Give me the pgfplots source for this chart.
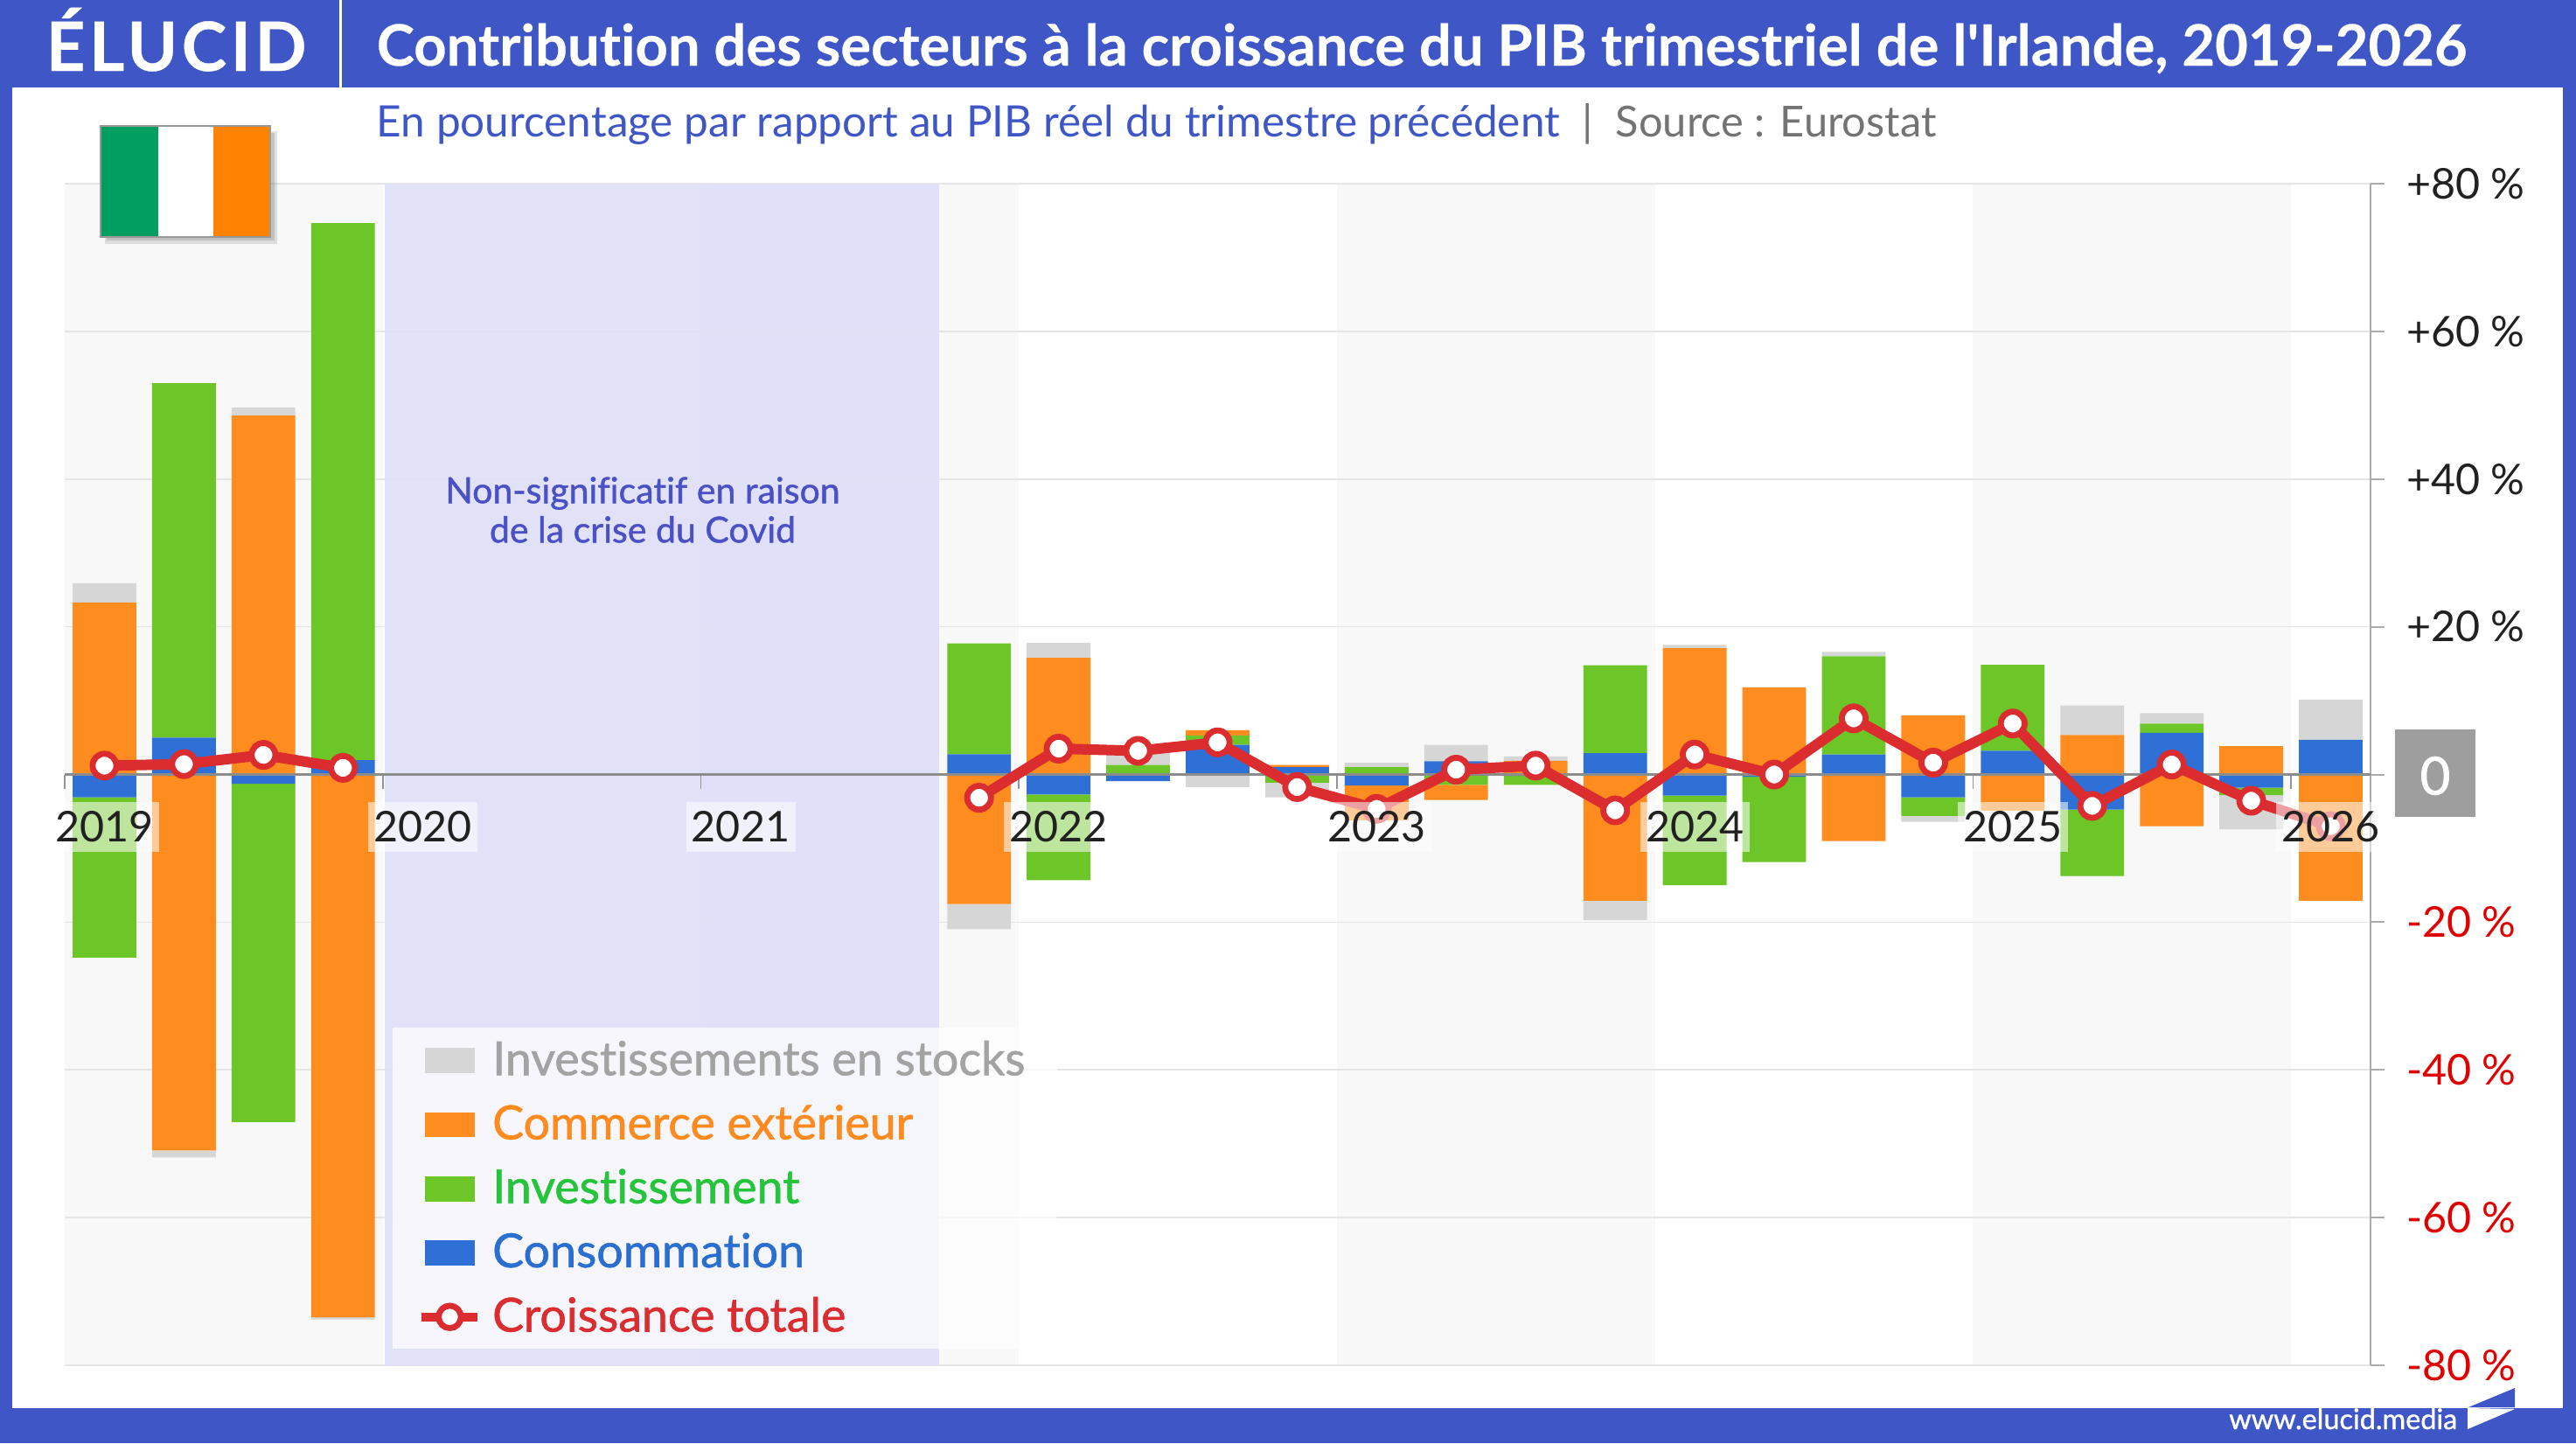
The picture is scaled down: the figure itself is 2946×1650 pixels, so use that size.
\documentclass[border=0pt]{standalone}
\usepackage{pgfplots}
\usepackage{pgfplotstable}
\usepackage{fontspec}
\pgfplotsset{compat=1.18}
\setmainfont{Lato}[Ligatures={NoCommon,TeXOff}]
\newfontfamily\semi[FakeBold=1.1,Ligatures={NoCommon,TeXOff}]{Lato}

\definecolor{banner}{HTML}{3F57C6}
\definecolor{cgray}{HTML}{D6D6D6}
\definecolor{corange}{HTML}{FF8C1E}
\definecolor{cgreen}{HTML}{6DC627}
\definecolor{cblue}{HTML}{2E70D6}
\definecolor{cred}{HTML}{DB2C30}
\definecolor{neglab}{HTML}{E00000}
\definecolor{band}{HTML}{F8F8F8}
\definecolor{covid}{HTML}{DFDFF8}
\definecolor{covidtext}{HTML}{4A50C6}
\definecolor{flaggreen}{HTML}{009E60}
\definecolor{flagorange}{HTML}{FF8200}

% positive contributions, stacked upwards
\pgfplotstableread{
x blue green orange gray
0.5 0 0 23.3 2.6
1.5 5 48 0 0
2.5 0 0 48.6 1.1
3.5 1.95 72.7 0 0
11.5 2.75 15 0 0
12.5 0 0 15.8 2.05
13.5 0 1.3 0 2.6
14.5 4 1.3 0.7 0
15.5 1 0 0.3 0
16.5 0 1 0 0.6
17.5 1.8 0 0 2.2
18.5 0 0 1.85 0.6
19.5 2.9 11.9 0 0
20.5 0 0 17.1 0.45
21.5 0 0 11.8 0
22.5 2.7 13.3 0 0.6
23.5 0 0 8 0
24.5 3.2 11.65 0 0
25.5 0 0 5.35 4
26.5 5.65 1.25 0 1.4
27.5 0 0 3.85 0
28.5 4.7 0 0 5.45
}\posdata

% negative contributions, stacked downwards
\pgfplotstableread{
x blue green orange gray
0.5 -3.1 -21.7 0 0
1.5 0 0 -50.9 -0.95
2.5 -1.25 -45.8 0 0
3.5 0 0 -73.5 -0.3
11.5 0 0 -17.55 -3.4
12.5 -2.7 -11.6 0 0
13.5 -0.9 0 0 0
14.5 0 0 0 -1.7
15.5 0 -1.1 0 -2
16.5 -1.5 0 -4.7 0
17.5 0 -1.4 -2.05 0
18.5 -0.2 -1.2 0 0
19.5 0 0 -17.1 -2.6
20.5 -2.85 -12.15 0 0
21.5 -0.3 -11.55 0 0
22.5 0 0 -9 0
23.5 -3.1 -2.5 0 -0.8
24.5 0 0 -4.9 0
25.5 -4.75 -9 0 0
26.5 0 0 -7 0
27.5 -1.8 -1 0 -4.6
28.5 0 0 -17.1 0
}\negdata

\pgfplotstableread{
x total
0.5 1.2
1.5 1.4
2.5 2.65
3.5 0.9
7 nan
11.5 -3.15
12.5 3.5
13.5 3.2
14.5 4.35
15.5 -1.7
16.5 -4.65
17.5 0.65
18.5 1.2
19.5 -4.85
20.5 2.7
21.5 0
22.5 7.6
23.5 1.6
24.5 6.9
25.5 -4.25
26.5 1.35
27.5 -3.55
28.5 -7
}\growth

\pgfplotsset{
  base/.style={
    at={(18.5pt,-390.25pt)}, anchor=south west,
    scale only axis, width=659.25pt, height=337.75pt,
    xmin=0, xmax=29, ymin=-80, ymax=80
  },
  bars/.style={base, hide axis, ybar stacked, bar width=18.2pt}
}

\begin{document}
\begin{tikzpicture}[x=0.25pt,y=-0.25pt]
\useasboundingbox (0,0) rectangle (2946,1650);
\fill[banner] (0,0) rectangle (2946,1650);
\fill[white] (14,100) rectangle (2931,1610);
\fill[white] (388,0) rectangle (391,100);

% alternating year bands
\begin{axis}[base, hide axis]
  \fill[band] (axis cs:0,-80) rectangle (axis cs:4,80);
  \fill[band] (axis cs:8,-80) rectangle (axis cs:12,80);
  \fill[band] (axis cs:16,-80) rectangle (axis cs:20,80);
  \fill[band] (axis cs:24,-80) rectangle (axis cs:28,80);
\end{axis}

% grid, right axis and its labels
\begin{axis}[base,
    axis x line=none, axis y line*=right,
    axis line style={color=black!33, line width=0.5pt},
    ytick={-80,-60,...,80},
    yticklabels={\textcolor{neglab}{-80 \%},\textcolor{neglab}{-60 \%},\textcolor{neglab}{-40 \%},\textcolor{neglab}{-20 \%},{},+20 \%,+40 \%,+60 \%,+80 \%},
    tick align=outside, major tick length=4pt,
    ytick style={color=black!33, line width=0.5pt},
    ymajorgrids, grid style={color=black!10, line width=0.4pt},
    yticklabel style={anchor=west, font=\fontsize{12.1}{15}\selectfont, text=black!87, xshift=2.8pt}
  ]
  \fill[covid, opacity=0.93] (axis cs:4.03,-80) rectangle (axis cs:11,80);
\end{axis}
\fill[white, opacity=0.7] (449,1175) rectangle (1209,1542);

\begin{axis}[bars]
  \addplot[fill=cblue, draw=none] table[x=x,y=blue] {\posdata};
  \addplot[fill=cgreen, draw=none] table[x=x,y=green] {\posdata};
  \addplot[fill=corange, draw=none] table[x=x,y=orange] {\posdata};
  \addplot[fill=cgray, draw=none] table[x=x,y=gray] {\posdata};
\end{axis}

\begin{axis}[bars]
  \addplot[fill=cblue, draw=none] table[x=x,y=blue] {\negdata};
  \addplot[fill=cgreen, draw=none] table[x=x,y=green] {\negdata};
  \addplot[fill=corange, draw=none] table[x=x,y=orange] {\negdata};
  \addplot[fill=cgray, draw=none] table[x=x,y=gray] {\negdata};
\end{axis}

% zero line, total growth and the legend
\begin{axis}[base, clip=false,
    axis y line=none, axis x line*=middle,
    axis line style={color=black!45, line width=0.6pt},
    xtick={0,4,...,28}, xticklabels={},
    tick align=outside, major tick length=4pt,
    xtick style={color=black!42, line width=0.4pt},
    legend cell align=left,
    legend style={at={(0.1526,0.2813)}, anchor=north west, fill=none, draw=none,
      row sep=3pt, inner sep=0pt, font=\semi\fontsize{13.43}{15}\selectfont,
      /tikz/every even column/.append style={column sep=0pt}}
  ]
  \addplot[color=cred, line width=3pt, mark=*, unbounded coords=jump,
    mark options={fill=white, draw=cred, line width=1.7pt}, mark size=3.4pt,
    forget plot] table[x=x,y=total] {\growth};
  \addlegendimage{legend image code/.code={\fill[cgray] (0pt,-3.4pt) rectangle (14pt,3.4pt);}}
  \addlegendentry{\hspace*{0.9pt}\textcolor{black!36}{Investissements en stocks}}
  \addlegendimage{legend image code/.code={\fill[corange] (0pt,-3.4pt) rectangle (14pt,3.4pt);}}
  \addlegendentry{\hspace*{0.9pt}\textcolor[HTML]{FF8A1E}{Commerce extérieur}}
  \addlegendimage{legend image code/.code={\fill[cgreen] (0pt,-3.4pt) rectangle (14pt,3.4pt);}}
  \addlegendentry{\hspace*{0.9pt}\textcolor[HTML]{25C43A}{Investissement}}
  \addlegendimage{legend image code/.code={\fill[cblue] (0pt,-3.4pt) rectangle (14pt,3.4pt);}}
  \addlegendentry{\hspace*{0.9pt}\textcolor[HTML]{2A6FD0}{Consommation}}
  \addlegendimage{legend image code/.code={\draw[cred, line width=2.6pt] (-1pt,0pt) -- (15pt,0pt);\draw[cred, line width=1.7pt, fill=white] (7pt,0pt) circle (3.2pt);}}
  \addlegendentry{\hspace*{0.9pt}\textcolor{cred}{Croissance totale}}
\end{axis}

% year labels, their pale boxes lie over the bars and the line
\begin{axis}[base, clip=false,
    axis y line=none, axis x line*=middle,
    axis line style={draw=none},
    xtick={0,4,...,28},
    xticklabels={2019,2020,2021,2022,2023,2024,2025,2026},
    major tick length=0pt,
    xticklabel style={anchor=center, xshift=11.4pt, yshift=-15pt,
      font=\fontsize{12.1}{15}\selectfont, text=black!87,
      fill=white, fill opacity=0.55, text opacity=1,
      inner xsep=1.6pt, inner ysep=2.6pt}
  ]
\end{axis}

% texts and decoration round the chart
\node[anchor=base west, text=white, font=\bfseries\fontsize{19.4}{24}\selectfont, inner sep=0pt] at (52,81) {\addfontfeature{LetterSpace=6,FakeBold=0.5}ÉLUCID};
\node[anchor=base west, text=white, font=\bfseries\fontsize{16.28}{20}\selectfont, inner sep=0pt] at (430,75) {\addfontfeature{FakeBold=0.4}Contribution des secteurs à la croissance du PIB trimestriel de l'Irlande, 2019-2026};
\node[anchor=base west, text=banner, font=\fontsize{12.38}{15}\selectfont, inner sep=0pt] at (430,156) {En pourcentage par rapport au PIB réel du trimestre précédent};
\node[anchor=base west, text=black!55, font=\fontsize{12.38}{15}\selectfont, inner sep=0pt] at (1809,156) {|};
\node[anchor=base west, text=black!55, font=\fontsize{12.2}{15}\selectfont, inner sep=0pt] at (1847,156) {Source : Eurostat};
\node[align=center, text=covidtext, font=\semi\fontsize{10.26}{11.25}\selectfont, inner sep=0pt] at (735,583) {Non-significatif en raison\\de la crise du Covid};
\fill[black!38] (2739,834) rectangle (2831,934);
\node[text=white, font=\semi\fontsize{15}{18}\selectfont, inner sep=0pt] at (2785,887) {0};

% flag
\fill[black!45, opacity=0.25] (120,150) rectangle (317,279);
\fill[black!45, opacity=0.35] (122,152) rectangle (314,275);
\fill[black!40] (114,143) rectangle (310,272);
\fill[flaggreen] (116,145) rectangle (181,270);
\fill[white] (181,145) rectangle (244,270);
\fill[flagorange] (244,145) rectangle (308,270);

% footer
\node[anchor=base east, text=white, font=\semi\fontsize{8.1}{12}\selectfont, inner sep=0pt] at (2811,1634) {www.elucid.media};
\fill[banner] (2823,1609) -- (2876,1587) -- (2876,1609) -- cycle;
\fill[white] (2822,1610) -- (2876,1611) -- (2822,1634) -- cycle;
\end{tikzpicture}
\end{document}
